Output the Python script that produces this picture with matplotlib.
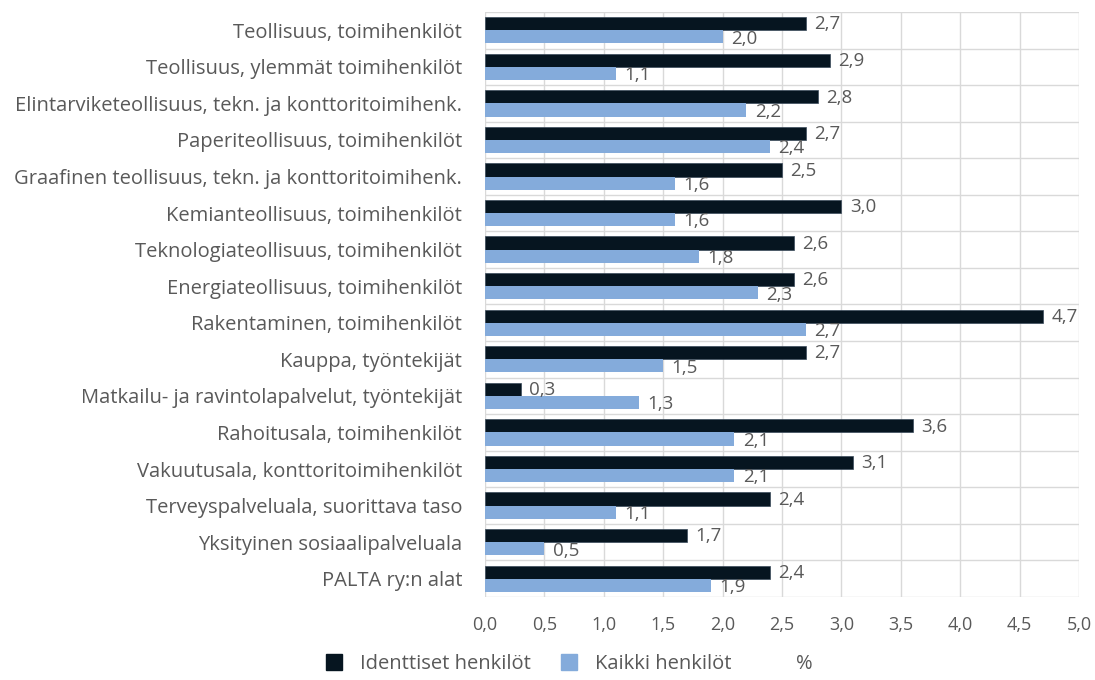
import matplotlib
matplotlib.use("Agg")
import matplotlib.pyplot as plt
from matplotlib.patches import Patch
import numpy as np

categories = [
    "Teollisuus, toimihenkilöt",
    "Teollisuus, ylemmät toimihenkilöt",
    "Elintarviketeollisuus, tekn. ja konttoritoimihenk.",
    "Paperiteollisuus, toimihenkilöt",
    "Graafinen teollisuus, tekn. ja konttoritoimihenk.",
    "Kemianteollisuus, toimihenkilöt",
    "Teknologiateollisuus, toimihenkilöt",
    "Energiateollisuus, toimihenkilöt",
    "Rakentaminen, toimihenkilöt",
    "Kauppa, työntekijät",
    "Matkailu- ja ravintolapalvelut, työntekijät",
    "Rahoitusala, toimihenkilöt",
    "Vakuutusala, konttoritoimihenkilöt",
    "Terveyspalveluala, suorittava taso",
    "Yksityinen sosiaalipalveluala",
    "PALTA ry:n alat",
]
identtiset = [2.7, 2.9, 2.8, 2.7, 2.5, 3.0, 2.6, 2.6, 4.7, 2.7, 0.3, 3.6, 3.1, 2.4, 1.7, 2.4]
kaikki = [2.0, 1.1, 2.2, 2.4, 1.6, 1.6, 1.8, 2.3, 2.7, 1.5, 1.3, 2.1, 2.1, 1.1, 0.5, 1.9]
xticks = [0.0, 0.5, 1.0, 1.5, 2.0, 2.5, 3.0, 3.5, 4.0, 4.5, 5.0]
series_names = ["Identtiset henkilöt", "Kaikki henkilöt", "%"]

plt.rcParams['font.family'] = ['Open Sans', 'DejaVu Sans']
text_color = "#595959"
dark = "#061520"
light = "#84ABDB"
grid = "#D9D9D9"

fig = plt.figure(figsize=(10.95, 6.8), dpi=100)
ax = fig.add_axes([0.4429, 0.1221, 0.5425, 0.8603])

n = len(categories)
y = np.arange(n)
h = 0.36
ax.barh(y - h / 2, identtiset, height=h, color=dark, edgecolor="#3a4a5a", linewidth=0.5, zorder=3)
ax.barh(y + h / 2, kaikki, height=h, color=light, zorder=3)

def fmt(v):
    return f"{v:.1f}".replace(".", ",")

for i in range(n):
    ax.text(identtiset[i] + 0.07, y[i] - h / 2 + 0.02, fmt(identtiset[i]), va="center", ha="left",
            fontsize=13.5, color=text_color, zorder=4)
    ax.text(kaikki[i] + 0.07, y[i] + h / 2 + 0.05, fmt(kaikki[i]), va="center", ha="left",
            fontsize=13.5, color=text_color, zorder=4)

ax.set_xlim(0, 5.0)
ax.set_ylim(n - 0.5, -0.5)
ax.set_xticks(xticks)
ax.set_xticklabels([fmt(t) for t in xticks], fontsize=13, color=text_color)
ax.set_yticks(y)
ax.set_yticklabels(categories, fontsize=14.5, color=text_color)
ax.tick_params(axis="x", length=0, pad=14)
ax.tick_params(axis="y", length=0, pad=16.5)

# grid: vertical at ticks, horizontal at group boundaries
for t in xticks:
    ax.axvline(t, color=grid, linewidth=1, zorder=1)
for b in np.arange(-0.5, n, 1.0):
    ax.axhline(b, color=grid, linewidth=1, zorder=1)
for s in ax.spines.values():
    s.set_visible(False)

handles = [Patch(facecolor=dark, edgecolor=dark), Patch(facecolor=light, edgecolor=light),
           Patch(facecolor="none", edgecolor="none")]
leg = fig.legend(handles, series_names, loc="lower center", bbox_to_anchor=(0.52, -0.018), ncol=3,
                 frameon=False, fontsize=14.5, handlelength=0.8, handleheight=0.8,
                 columnspacing=1.5, handletextpad=0.9)
for t in leg.get_texts():
    t.set_color(text_color)

fig.savefig("out.png", dpi=100)
